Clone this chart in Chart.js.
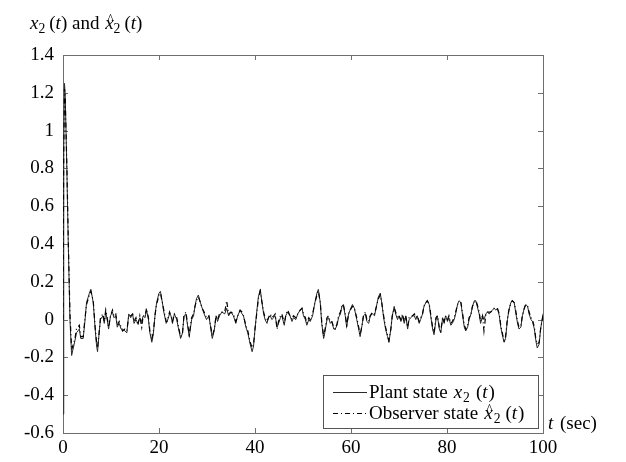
<!DOCTYPE html>
<html>
<head>
<meta charset="utf-8">
<script src="https://cdn.jsdelivr.net/npm/chart.js@4.4.1/dist/chart.umd.min.js"></script>
<style>
  html, body { margin: 0; padding: 0; background: #fff; }
  #wrap { width: 626px; height: 462px; }
</style>
</head>
<body>
<div id="wrap"><canvas id="chart"></canvas></div>
<script>
// time axis (sec), one row = 10 samples
const timeSec = [
  0, 0.15, 0.3, 0.45, 0.8, 1.1, 1.45, 1.8, 2.5, 2.8,
  3.4, 3.7, 4.2, 4.6, 4.9, 5.5, 5.8, 6.3, 6.7, 7.0,
  7.2, 7.6, 7.8, 8.3, 8.6, 8.9, 9.2, 9.5, 9.9, 10.3,
  10.6, 11.0, 11.3, 11.7, 12.1, 12.4, 12.9, 13.3, 13.7, 14.1,
  14.5, 14.8, 15.2, 15.6, 16.0, 16.4, 16.7, 17.1, 17.4, 17.8,
  18.1, 18.5, 18.8, 19.2, 19.5, 20.0, 20.3, 20.7, 21.0, 21.5,
  21.7, 22.2, 22.5, 22.8, 23.2, 23.7, 24.0, 24.5, 24.9, 25.2,
  25.6, 26.0, 26.3, 26.8, 27.2, 27.5, 27.8, 28.2, 28.5, 29.0,
  29.4, 29.9, 30.4, 30.8, 31.1, 31.5, 31.9, 32.2, 32.6, 33.1,
  33.7, 34.1, 34.5, 35.0, 35.5, 36.0, 36.4, 36.9, 37.3, 37.6,
  38.1, 38.5, 39.0, 39.4, 39.7, 40.0, 40.4, 40.7, 41.1, 41.4,
  41.8, 42.1, 42.5, 42.8, 43.2, 43.5, 43.9, 44.2, 44.6, 44.9,
  45.3, 45.6, 46.1, 46.4, 46.8, 47.3, 47.7, 48.0, 48.5, 48.9,
  49.4, 49.8, 50.1, 50.5, 50.8, 51.2, 51.5, 52.0, 52.4, 52.9,
  53.2, 53.6, 53.9, 54.3, 54.6, 55.0, 55.3, 55.7, 56.0, 56.4,
  56.7, 57.1, 57.4, 57.8, 58.1, 58.4, 58.8, 59.1, 59.5, 59.8,
  60.3, 60.7, 61.2, 61.6, 61.9, 62.3, 62.6, 63.0, 63.3, 63.7,
  64.0, 64.5, 64.9, 65.3, 65.7, 66.1, 66.4, 66.8, 67.2, 67.6,
  67.9, 68.3, 68.6, 69.0, 69.3, 69.7, 70.0, 70.4, 70.7, 71.1,
  71.4, 71.8, 72.1, 72.5, 72.8, 73.2, 73.5, 73.8, 74.2, 74.5,
  74.9, 75.2, 75.6, 75.9, 76.3, 76.6, 77.0, 77.3, 77.7, 78.0,
  78.4, 78.7, 79.1, 79.4, 79.7, 80.1, 80.4, 80.8, 81.1, 81.5,
  81.8, 82.2, 82.5, 82.9, 83.2, 83.6, 83.9, 84.3, 84.6, 85.0,
  85.3, 85.7, 86.0, 86.3, 86.7, 87.0, 87.4, 87.7, 88.1, 88.4,
  88.8, 89.1, 89.5, 89.8, 90.2, 90.5, 90.9, 91.2, 91.6, 91.9,
  92.2, 92.6, 92.9, 93.3, 93.6, 94.0, 94.3, 94.7, 95.0, 95.4,
  95.7, 96.1, 96.4, 96.8, 97.1, 97.5, 97.8, 98.2, 98.5, 98.8,
  99.2, 99.5, 100
];

// plant state x2(t)
const plantState = [
  -0.5, 0.9, 1.25, 1.2, 0.8, 0.4, 0.0, -0.19, -0.11, -0.07,
  -0.05, -0.10, -0.10, 0.0, 0.09, 0.14, 0.16, 0.09, -0.05, -0.14,
  -0.17, -0.05, 0.0, 0.02, -0.02, 0.04, 0.0, -0.05, 0.02, 0.04,
  0.01, 0.02, -0.04, -0.02, -0.05, -0.05, -0.06, -0.07, 0.03, 0.01,
  0.03, -0.02, 0.0, -0.02, 0.01, -0.01, 0.02, 0.01, 0.05, 0.0,
  -0.07, -0.12, -0.08, 0.03, 0.09, 0.14, 0.15, 0.09, 0.04, -0.02,
  -0.01, 0.03, 0.02, -0.02, 0.03, 0.0, -0.04, -0.10, -0.07, 0.02,
  0.03, -0.04, -0.09, 0.0, 0.02, 0.07, 0.11, 0.13, 0.10, 0.06,
  0.03, 0.0, 0.02, -0.05, -0.10, -0.06, 0.02, -0.01, 0.02, 0.04,
  0.03, 0.06, 0.02, 0.04, 0.02, -0.02, 0.02, 0.05, 0.03, 0.02,
  -0.04, -0.07, -0.13, -0.17, -0.14, -0.05, 0.05, 0.12, 0.16, 0.10,
  0.03, 0.0, -0.02, 0.01, 0.02, 0.0, 0.01, 0.02, -0.04, -0.02,
  0.01, 0.02, -0.03, 0.02, 0.04, 0.02, -0.01, 0.01, 0.0, 0.03,
  0.05, 0.06, 0.02, 0.0, -0.03, 0.0, -0.01, 0.02, 0.08, 0.14,
  0.16, 0.09, -0.02, -0.10, -0.06, 0.0, 0.01, -0.02, -0.01, -0.05,
  -0.05, -0.03, 0.01, 0.03, 0.07, 0.08, 0.02, -0.04, 0.03, 0.05,
  0.08, 0.06, 0.0, -0.05, -0.09, -0.03, 0.02, 0.03, -0.01, -0.02,
  0.02, 0.03, 0.02, 0.07, 0.12, 0.14, 0.09, 0.01, -0.05, -0.09,
  -0.12, -0.05, 0.02, 0.07, 0.03, 0.0, 0.02, -0.01, 0.02, -0.02,
  0.02, -0.05, 0.0, 0.01, 0.02, 0.02, 0.0, 0.02, -0.02, 0.0,
  0.03, 0.07, 0.09, 0.10, 0.08, 0.02, -0.05, -0.08, 0.0, 0.02,
  -0.05, -0.07, 0.01, -0.02, 0.02, -0.01, 0.01, -0.03, -0.02, 0.0,
  0.03, 0.08, 0.10, 0.09, 0.03, -0.04, -0.06, -0.04, 0.0, 0.03,
  0.07, 0.10, 0.10, 0.07, 0.03, -0.02, 0.02, 0.0, 0.03, 0.04,
  0.03, 0.04, 0.05, 0.06, 0.05, 0.06, 0.02, -0.04, -0.09, -0.12,
  -0.10, 0.0, 0.05, 0.09, 0.10, 0.09, 0.04, -0.02, -0.05, -0.04,
  0.02, 0.06, 0.08, 0.07, 0.03, 0.0, -0.01, -0.05, -0.11, -0.15,
  -0.13, -0.05, 0.03
];

// observer estimate x2-hat(t)
const observerState = [
  0.0, 0.85, 1.22, 1.18, 0.82, 0.42, 0.03, -0.16, -0.10, -0.05,
  -0.03, -0.09, -0.09, 0.01, 0.08, 0.13, 0.15, 0.10, -0.04, -0.12,
  -0.15, -0.05, 0.01, 0.03, -0.01, 0.05, 0.01, -0.04, 0.02, 0.05,
  0.02, 0.03, -0.03, -0.01, -0.04, -0.06, -0.05, -0.06, 0.02, 0.02,
  0.03, -0.01, 0.01, -0.03, 0.02, -0.04, 0.02, 0.02, 0.06, 0.01,
  -0.06, -0.10, -0.07, 0.03, 0.08, 0.13, 0.14, 0.09, 0.05, -0.01,
  -0.01, 0.04, 0.02, -0.01, 0.03, 0.01, -0.03, -0.09, -0.07, 0.02,
  0.04, -0.03, -0.08, 0.01, 0.03, 0.07, 0.10, 0.12, 0.10, 0.06,
  0.04, 0.01, 0.02, -0.04, -0.09, -0.05, 0.02, 0.0, 0.03, 0.04,
  0.04, 0.10, 0.03, 0.04, 0.03, -0.01, 0.02, 0.05, 0.04, 0.02,
  -0.03, -0.06, -0.12, -0.15, -0.13, -0.05, 0.04, 0.11, 0.15, 0.10,
  0.04, 0.01, -0.01, 0.01, 0.03, 0.01, 0.02, 0.03, -0.05, -0.01,
  0.02, 0.03, -0.02, 0.02, 0.05, 0.02, 0.0, 0.02, 0.01, 0.03,
  0.05, 0.06, 0.03, 0.01, -0.02, 0.01, 0.0, 0.03, 0.08, 0.13,
  0.15, 0.09, -0.01, -0.09, -0.05, 0.01, 0.02, -0.01, -0.01, -0.04,
  -0.05, -0.02, 0.02, 0.04, 0.07, 0.08, 0.03, -0.03, 0.03, 0.05,
  0.07, 0.06, 0.01, -0.04, -0.08, -0.03, 0.02, 0.04, 0.0, -0.01,
  0.02, 0.04, 0.03, 0.07, 0.11, 0.13, 0.09, 0.02, -0.04, -0.08,
  -0.11, -0.05, 0.02, 0.06, 0.04, 0.01, 0.02, 0.0, 0.03, -0.01,
  0.02, -0.04, 0.01, 0.02, 0.02, 0.03, 0.01, 0.02, -0.01, 0.01,
  0.03, 0.07, 0.09, 0.10, 0.08, 0.03, -0.04, -0.07, 0.01, 0.02,
  -0.04, -0.06, 0.01, -0.01, 0.02, 0.0, 0.02, -0.02, -0.01, 0.01,
  0.04, 0.08, 0.09, 0.09, 0.04, -0.03, -0.05, -0.03, 0.01, 0.03,
  0.07, 0.09, 0.10, 0.08, 0.04, -0.01, 0.02, -0.06, 0.03, 0.04,
  0.04, 0.04, 0.05, 0.06, 0.06, 0.06, 0.03, -0.03, -0.08, -0.11,
  -0.09, 0.01, 0.05, 0.09, 0.10, 0.09, 0.05, -0.01, -0.04, -0.03,
  0.02, 0.06, 0.08, 0.07, 0.04, 0.01, 0.0, -0.04, -0.10, -0.13,
  -0.12, -0.05, 0.02
];

const xTicks = [0, 20, 40, 60, 80, 100];
const yTicks = [1.4, 1.2, 1, 0.8, 0.6, 0.4, 0.2, 0, -0.2, -0.4, -0.6];

const FONT = '"Liberation Serif", "Times New Roman", serif';
const SIZE = 19;

// text pieces: s = string, it = italic, sub = subscript, hat = caret above, gap = extra space after
const titleRuns = [
  { s: 'x', it: true }, { s: '2', sub: true, gap: 4 }, { s: '(' }, { s: 't', it: true }, { s: ')' },
  { s: ' and ', gap: 1 },
  { s: 'x', it: true, hat: true }, { s: '2', sub: true, gap: 4 }, { s: '(' }, { s: 't', it: true }, { s: ')' }
];
const plantRuns = [
  { s: 'Plant state', gap: 6 }, { s: 'x', it: true, gap: 1 }, { s: '2', sub: true, gap: 6 },
  { s: '(' }, { s: 't', it: true, gap: 1 }, { s: ')' }
];
const observerRuns = [
  { s: 'Observer state', gap: 6 }, { s: 'x', it: true, hat: true, gap: 1 }, { s: '2', sub: true, gap: 5 },
  { s: '(' }, { s: 't', it: true, gap: 1 }, { s: ')' }
];
const xAxisRuns = [{ s: 't', it: true, gap: 2 }, { s: ' (sec)' }];

function drawRuns(ctx, runs, x, y) {
  ctx.textAlign = 'left';
  ctx.textBaseline = 'alphabetic';
  for (const r of runs) {
    const fs = r.sub ? SIZE * 0.72 : SIZE;
    ctx.font = (r.it ? 'italic ' : '') + fs + 'px ' + FONT;
    const w = ctx.measureText(r.s).width;
    ctx.fillText(r.s, x, y + (r.sub ? SIZE * 0.22 : 0));
    if (r.hat) {
      ctx.font = (SIZE * 0.72) + 'px ' + FONT;
      ctx.textAlign = 'center';
      ctx.fillText('^', x + w / 2 + 1, y - 5);
      ctx.textAlign = 'left';
    }
    x += w + (r.gap || 0);
  }
  return x;
}

const pts = ys => timeSec.map((t, i) => ({ x: t, y: ys[i] }));

// frame with inward ticks, drawn under the curves
const framePlugin = {
  id: 'frame',
  beforeDatasetsDraw(chart) {
    const { ctx, chartArea: a, scales } = chart;
    ctx.save();
    ctx.strokeStyle = '#6e6e6e';
    ctx.lineWidth = 1;
    ctx.strokeRect(a.left + 0.5, a.top + 0.5, a.right - a.left, a.bottom - a.top);
    ctx.beginPath();
    const tl = 5;
    xTicks.forEach(v => {
      const px = Math.round(scales.x.getPixelForValue(v)) + 0.5;
      ctx.moveTo(px, a.bottom); ctx.lineTo(px, a.bottom - tl);
      ctx.moveTo(px, a.top); ctx.lineTo(px, a.top + tl);
    });
    yTicks.forEach(v => {
      const py = Math.round(scales.y.getPixelForValue(v)) + 0.5;
      ctx.moveTo(a.left, py); ctx.lineTo(a.left + tl, py);
      ctx.moveTo(a.right, py); ctx.lineTo(a.right - tl, py);
    });
    ctx.stroke();
    ctx.restore();
  },
  afterDraw(chart) {
    const { ctx, chartArea: a } = chart;
    ctx.save();
    ctx.fillStyle = '#000';
    drawRuns(ctx, titleRuns, 30, 29);
    drawRuns(ctx, xAxisRuns, a.right + 5, a.bottom - 4);

    // legend box in the lower right corner
    const bx = a.right - 220, by = a.bottom - 58, bw = 215, bh = 53;
    ctx.fillStyle = '#fff';
    ctx.fillRect(bx, by, bw, bh);
    ctx.strokeStyle = '#555';
    ctx.lineWidth = 1;
    ctx.strokeRect(bx + 0.5, by + 0.5, bw, bh);
    const sets = chart.data.datasets;
    [plantRuns, observerRuns].forEach((runs, i) => {
      const ly = by + 17 + i * 21;
      const ds = sets[i];
      ctx.save();
      ctx.strokeStyle = ds.borderColor;
      ctx.lineWidth = ds.borderWidth;
      ctx.setLineDash(ds.borderDash || []);
      ctx.beginPath();
      ctx.moveTo(bx + 10, ly + 0.5);
      ctx.lineTo(bx + 44, ly + 0.5);
      ctx.stroke();
      ctx.restore();
      ctx.fillStyle = '#000';
      drawRuns(ctx, runs, bx + 46, ly + 6);
    });
    ctx.restore();
  }
};

new Chart(document.getElementById('chart'), {
  type: 'line',
  data: {
    datasets: [
      {
        label: 'Plant state',
        data: pts(plantState),
        borderColor: '#2a2a2a',
        borderWidth: 1,
        pointRadius: 0,
        order: 2
      },
      {
        label: 'Observer state',
        data: pts(observerState),
        borderColor: '#000',
        borderWidth: 1.2,
        borderDash: [5, 3, 1, 3],
        pointRadius: 0,
        order: 1
      }
    ]
  },
  options: {
    responsive: true,
    maintainAspectRatio: false,
    animation: false,
    layout: { padding: { top: 55, right: 83, left: 0, bottom: 0 } },
    plugins: { legend: { display: false }, tooltip: { enabled: false } },
    scales: {
      x: {
        type: 'linear',
        min: 0,
        max: 100,
        afterBuildTicks: s => { s.ticks = xTicks.map(v => ({ value: v })); },
        afterFit: s => { s.height = 29; },
        grid: { display: false, drawTicks: false },
        border: { display: false },
        ticks: { color: '#000', padding: 4, maxRotation: 0, font: { family: FONT, size: SIZE } }
      },
      y: {
        min: -0.6,
        max: 1.4,
        afterBuildTicks: s => { s.ticks = yTicks.map(v => ({ value: v })); },
        afterFit: s => { s.width = 63; },
        grid: { display: false, drawTicks: false },
        border: { display: false },
        ticks: {
          color: '#000',
          padding: 9,
          font: { family: FONT, size: SIZE },
          callback: v => String(Math.round(v * 10) / 10)
        }
      }
    }
  },
  plugins: [framePlugin]
});
</script>
</body>
</html>
